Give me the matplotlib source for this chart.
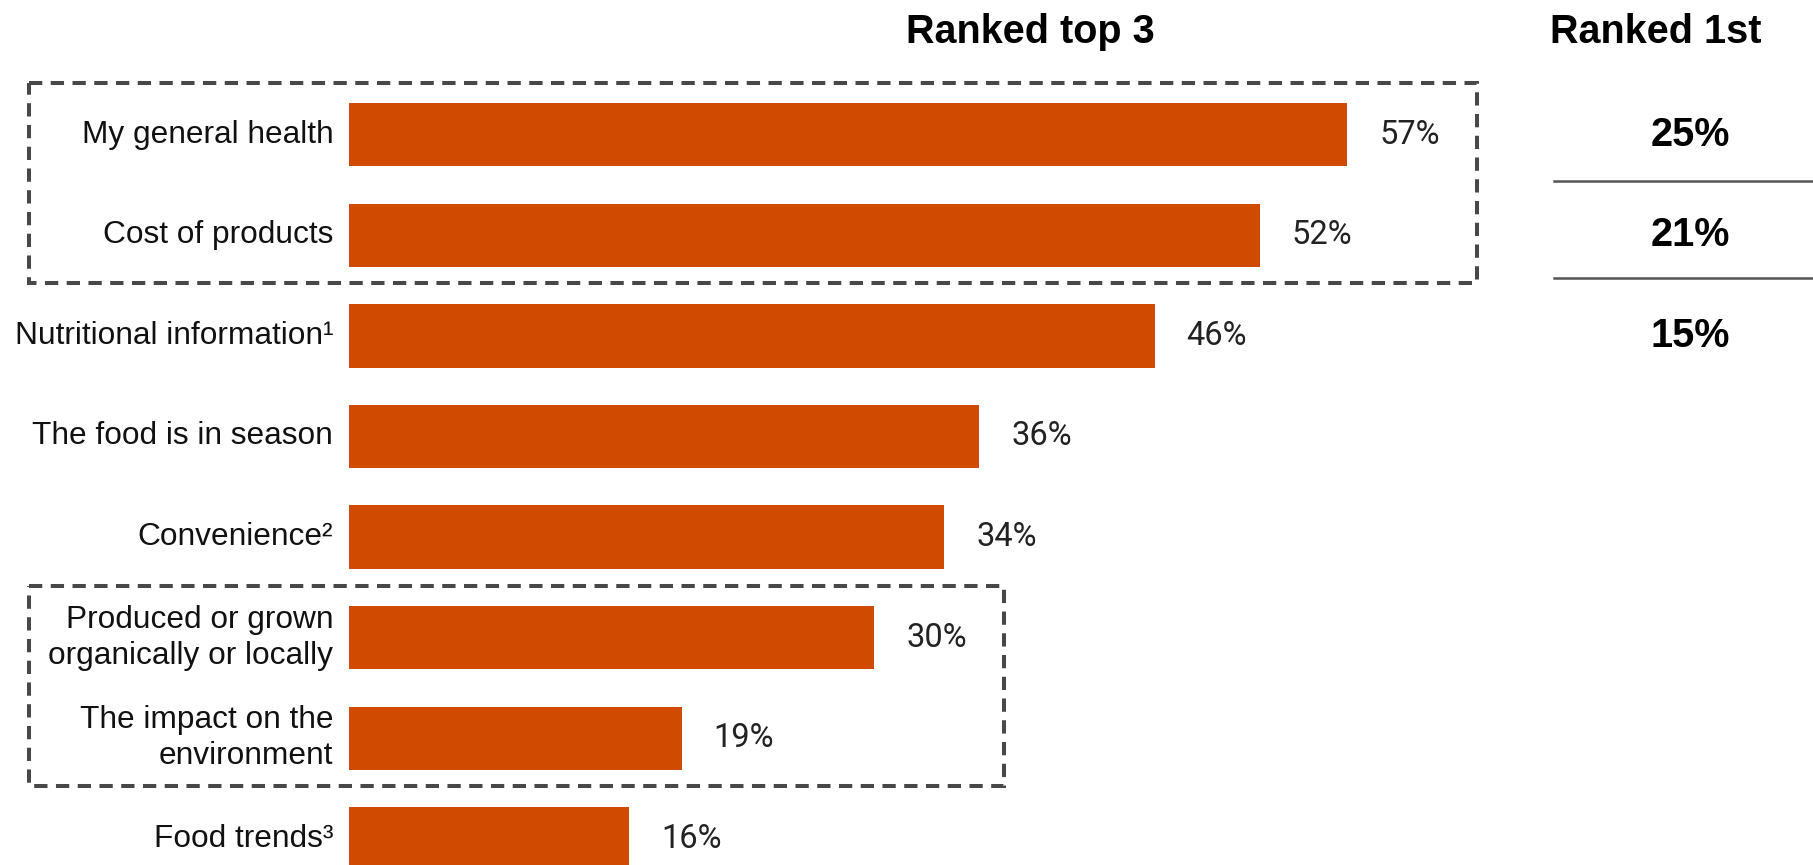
import matplotlib.pyplot as plt
from matplotlib.patches import Rectangle

categories = [
    'My general health',
    'Cost of products',
    'Nutritional information¹',
    'The food is in season',
    'Convenience²',
    'Produced or grown\norganically or locally',
    'The impact on the\nenvironment',
    'Food trends³',
]
top3 = [57, 52, 46, 36, 34, 30, 19, 16]
first_labels = ['25%', '21%', '15%']
groups = [(0, 1), (5, 6)]

ORANGE = '#D04A02'
DASH = '#484848'

fig = plt.figure(figsize=(18.13, 8.65), dpi=100)
ax = fig.add_axes([349 / 1813, 0, 1 - 349 / 1813, 1])
ax.set_xlim(0, 83.6)
ax.set_ylim(7.26, -1.339)
ax.axis('off')

rows = list(range(len(categories)))
ax.barh(rows, top3, height=0.63, color=ORANGE)

for y, v in zip(rows, top3):
    ax.annotate(f'{v}%', (v, y), xytext=(23, 0), textcoords='offset points',
                ha='left', va='center', fontsize=23.5, family='Roboto', color='#222222')
    ax.text(-0.9, y, categories[y], ha='right', va='center', fontsize=22.8,
            family='Liberation Sans', color='#111111', linespacing=1.25)

# dashed boxes around highlighted groups
for a, b in groups:
    right = max(top3[a:b + 1]) + 7.4
    box = Rectangle((-18.3, a - 0.51), right + 18.3, (b - a) + 0.98, fill=False,
                    edgecolor=DASH, lw=2.9, linestyle=(0, (3.3, 2.1)), clip_on=False)
    ax.add_patch(box)

ax.text(38.9, -1.02, 'Ranked top 3', ha='center', va='center', fontsize=28.5,
        family='Liberation Sans', weight='bold')
ax.text(74.6, -1.02, 'Ranked 1st', ha='center', va='center', fontsize=28.5,
        family='Liberation Sans', weight='bold')

for y, lab in enumerate(first_labels):
    ax.text(76.6, y, lab, ha='center', va='center', fontsize=28.5,
            family='Liberation Sans', weight='bold')
for y in [0.465, 1.42]:
    ax.plot([68.8, 83.6], [y, y], color='#555555', lw=1.8, clip_on=False)

fig.savefig('out.png', dpi=100)
